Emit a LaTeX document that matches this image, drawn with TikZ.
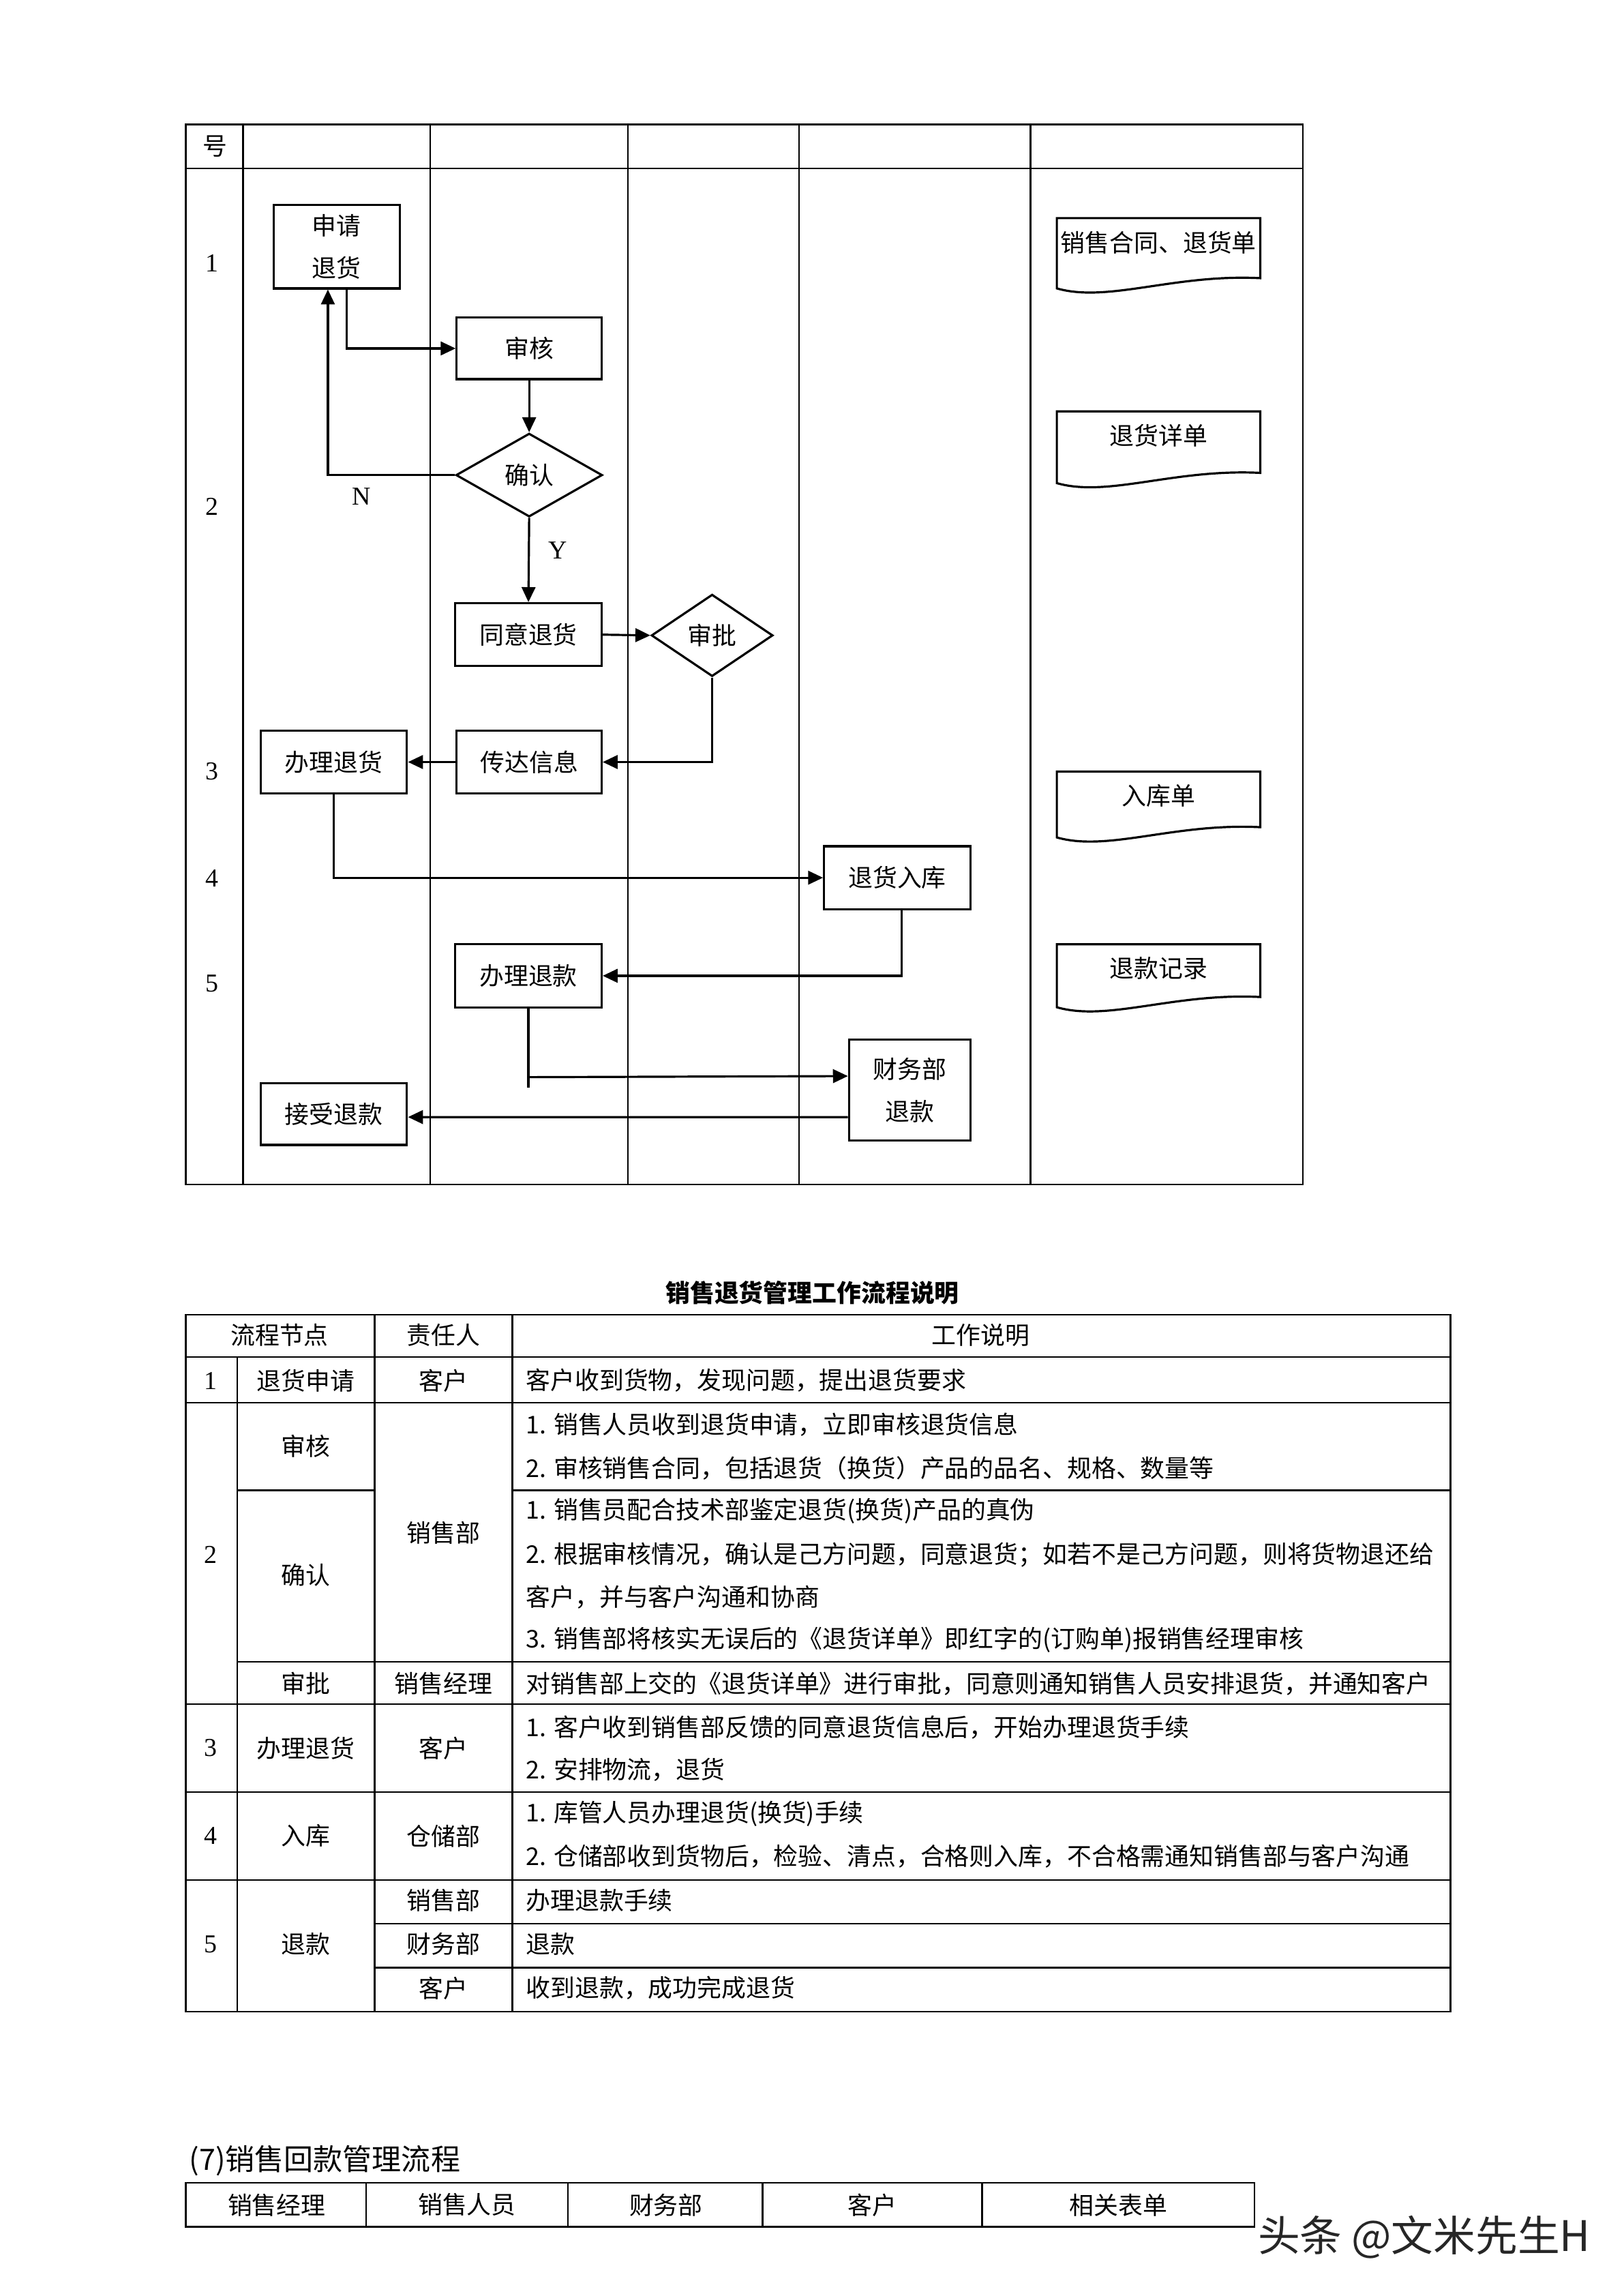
\documentclass[tikz,border=0pt]{standalone}
\usepackage{fontspec}
\setmainfont{Liberation Serif}
\newfontfamily\cjk{Noto Sans CJK SC}
\usetikzlibrary{shapes.geometric,arrows.meta,calc}
\newcommand\U{0.01894cm}
\newcommand\docbox[5]{%
  \draw[docline] (#2,#3) -- (#2,#3+#4) .. controls (#2+35,#3+#4+10) and (#2+80,#3+#4-10) .. (#2+139,#3+#4-7) -- (#2+139,#3) -- cycle;
  \node[tcell] (#1) at (#2+69.5,#3+16.5) {#5};}
\begin{document}
\begin{tikzpicture}[x=0.01894cm,y=-0.01894cm,
  flowbox/.style={draw,fill=white,line width=0.8pt,inner sep=0pt,font=\cjk\fontsize{9}{15.6}\selectfont,align=center},
  flowdia/.style={draw,fill=white,diamond,line width=0.8pt,inner sep=0pt,font=\cjk\fontsize{9}{11}\selectfont},
  arr/.style={line width=0.8pt,-{Triangle[length=5.5pt,width=5pt]}},
  conn/.style={line width=0.8pt},
  grid/.style={line width=0.6pt},
  tcell/.style={inner sep=0pt,font=\cjk\fontsize{9}{11}\selectfont},
  tline/.style={inner sep=0pt,anchor=west,font=\cjk\fontsize{9}{11}\selectfont},
  num/.style={inner sep=0pt,font=\rmfamily\fontsize{9.5}{11}\selectfont},
  docline/.style={line width=0.8pt}]
\fill[white] (0,0) rectangle (1109,1568.25);
\useasboundingbox (0,0) rectangle (1109,1568.25);

% ---------- swim-lane table ----------
\draw[grid] (127,85) rectangle (890,809);
\draw[grid] (127,115) -- (890,115);
\foreach \xx in {166,294,429,546,704} \draw[grid] (\xx,85) -- (\xx,809);
\node[tcell] (hao) at (147,100) {号};
\node[num] (r1) at (145,180) {1};
\node[num] (r2) at (145,346) {2};
\node[num] (r3) at (145,527) {3};
\node[num] (r4) at (145,600) {4};
\node[num] (r5) at (145,672) {5};

% ---------- flow nodes ----------
\node[flowbox,minimum width=86*\U,minimum height=57*\U] (sq) at (230,168.5) {申请\\退货};
\node[flowbox,minimum width=99*\U,minimum height=42*\U] (sh) at (361.5,238) {审核};
\node[flowdia,minimum width=100*\U,minimum height=57*\U] (qr) at (361.5,324.5) {确认};
\node[flowbox,minimum width=100*\U,minimum height=43*\U] (ty) at (361,433.5) {同意退货};
\node[flowdia,minimum width=83*\U,minimum height=56*\U] (sp) at (486.5,434) {审批};
\node[flowbox,minimum width=99*\U,minimum height=43*\U] (cd) at (361.5,520.5) {传达信息};
\node[flowbox,minimum width=100*\U,minimum height=43*\U] (bt) at (228,520.5) {办理退货};
\node[flowbox,minimum width=100*\U,minimum height=43*\U] (rk) at (613,599.5) {退货入库};
\node[flowbox,minimum width=100*\U,minimum height=43*\U] (bk) at (361,666.5) {办理退款};
\node[flowbox,minimum width=83*\U,minimum height=69*\U] (cw) at (621.5,744.5) {财务部\\退款};
\node[flowbox,minimum width=100*\U,minimum height=42*\U] (js) at (228,761) {接受退款};

% ---------- connectors ----------
\draw[arr] ($(sq.south)+(7,0)$) |- (sh.west);
\draw[arr] (sh.south) -- (qr.north);
\draw[arr] (qr.west) -| ($(sq.south)+(-6,0)$);
\node[num] (lN) at (247,339) {N};
\draw[arr] (qr.south) -- (ty.north);
\node[num] (lY) at (381,376) {Y};
\draw[arr] (ty.east) -- (sp.west);
\draw[arr] (sp.south) |- (cd.east);
\draw[arr] (cd.west) -- (bt.east);
\draw[arr] (bt.south) |- (rk.west);
\draw[arr] ($(rk.south)+(3,0)$) |- (bk.east);
\draw[conn] (bk.south) -- ++(0,54);
\draw[arr] (bk.south) ++(0,47) -- ($(cw.west)+(0,-9.5)$);
\draw[arr] ($(cw.west)+(0,18.5)$) -- ($(js.east)+(0,2)$);

% ---------- documents ----------
\docbox{d1}{722}{149}{48}{销售合同、退货单}
\docbox{d2}{722}{281}{49}{退货详单}
\docbox{d3}{722}{527}{45}{入库单}
\docbox{d4}{722}{645}{43}{退款记录}

% ---------- description table ----------
\node[tcell,font=\cjk\bfseries\fontsize{9}{11}\selectfont] (title) at (555,883) {销售退货管理工作流程说明};
\draw[grid] (127,898) rectangle (991,1374);
\foreach \yy in {927,958,1164,1224,1284} \draw[grid] (127,\yy) -- (991,\yy);
\draw[grid] (162,1018) -- (256,1018);
\draw[grid] (350,1018) -- (991,1018);
\draw[grid] (162,1135) -- (991,1135);
\draw[grid] (256,1314) -- (991,1314);
\draw[grid] (256,1344) -- (991,1344);
\draw[grid] (162,927) -- (162,1374);
\draw[grid] (256,898) -- (256,1374);
\draw[grid] (350,898) -- (350,1374);

\node[tcell] (h1) at (191,912) {流程节点};
\node[tcell] (h2) at (303,912) {责任人};
\node[tcell] (h3) at (670,912) {工作说明};

\node[num] (n1) at (144,943) {1};
\node[tcell] (a1) at (209,943) {退货申请};
\node[tcell] (b1) at (303,943) {客户};
\node[tline] (c1) at (359,943) {客户收到货物，发现问题，提出退货要求};

\node[num] (n2) at (144,1062) {2};
\node[tcell] (a2) at (209,988) {审核};
\node[tcell] (a3) at (209,1076) {确认};
\node[tcell] (b2) at (303,1047) {销售部};
\node[tline] (c2) at (359,973) {1. 销售人员收到退货申请，立即审核退货信息};
\node[tline] (c3) at (359,1003) {2. 审核销售合同，包括退货（换货）产品的品名、规格、数量等};
\node[tline] (c4) at (359,1032) {1. 销售员配合技术部鉴定退货(换货)产品的真伪};
\node[tline] (c5) at (359,1062) {2. 根据审核情况，确认是己方问题，同意退货；如若不是己方问题，则将货物退还给};
\node[tline] (c6) at (359,1091) {客户，并与客户沟通和协商};
\node[tline] (c7) at (359,1120) {3. 销售部将核实无误后的《退货详单》即红字的(订购单)报销售经理审核};
\node[tcell] (a4) at (209,1150) {审批};
\node[tcell] (b3) at (303,1150) {销售经理};
\node[tline] (c8) at (359,1150) {对销售部上交的《退货详单》进行审批，同意则通知销售人员安排退货，并通知客户};

\node[num] (n3) at (144,1194) {3};
\node[tcell] (a5) at (209,1194) {办理退货};
\node[tcell] (b4) at (303,1194) {客户};
\node[tline] (c9) at (359,1180) {1. 客户收到销售部反馈的同意退货信息后，开始办理退货手续};
\node[tline] (c10) at (359,1209) {2. 安排物流，退货};

\node[num] (n4) at (144,1254) {4};
\node[tcell] (a6) at (209,1254) {入库};
\node[tcell] (b5) at (303,1254) {仓储部};
\node[tline] (c11) at (359,1239) {1. 库管人员办理退货(换货)手续};
\node[tline] (c12) at (359,1268) {2. 仓储部收到货物后，检验、清点，合格则入库，不合格需通知销售部与客户沟通};

\node[num] (n5) at (144,1328) {5};
\node[tcell] (a7) at (209,1328) {退款};
\node[tcell] (b6) at (303,1298) {销售部};
\node[tcell] (b7) at (303,1328) {财务部};
\node[tcell] (b8) at (303,1358) {客户};
\node[tline] (c13) at (359,1298) {办理退款手续};
\node[tline] (c14) at (359,1328) {退款};
\node[tline] (c15) at (359,1358) {收到退款，成功完成退货};

% ---------- next section ----------
\node[tline,font=\cjk\fontsize{10.8}{13}\selectfont] (sec7) at (129,1476) {(7)销售回款管理流程};
\draw[grid] (127,1491) rectangle (857,1521);
\foreach \xx in {250,388,521,671} \draw[grid] (\xx,1491) -- (\xx,1521);
\node[tcell] (k1) at (189,1506) {销售经理};
\node[tcell] (k2) at (319,1506) {销售人员};
\node[tcell] (k3) at (455,1506) {财务部};
\node[tcell] (k4) at (596,1506) {客户};
\node[tcell] (k5) at (764,1506) {相关表单};

\node[tline,font=\cjk\fontsize{15.5}{18}\selectfont,text=black!85] (wm) at (859,1528) {头条 @文米先生H};
\end{tikzpicture}
\end{document}
